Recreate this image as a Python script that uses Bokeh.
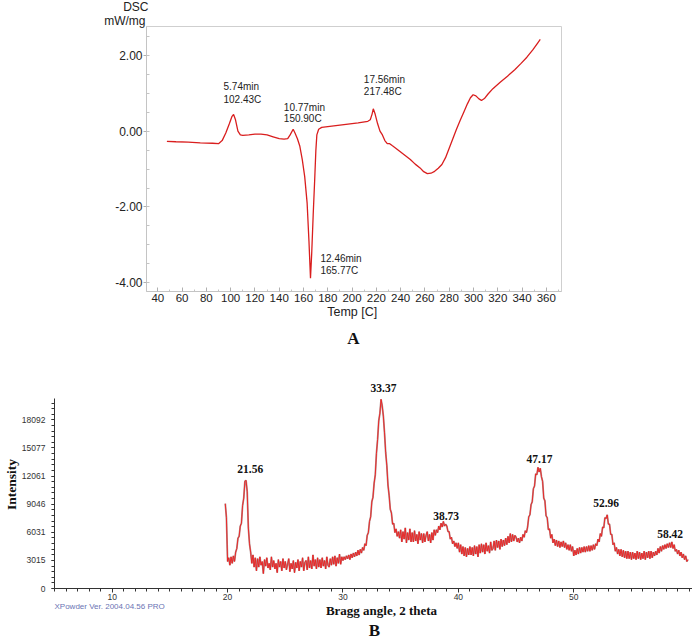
import numpy as np
from bokeh.plotting import figure
from bokeh.models import Range1d, FixedTicker, PrintfTickFormatter, Label
from bokeh.embed import file_html
from bokeh.resources import INLINE

# ---------------- Panel A : DSC ----------------
dsc_temp = [47.5, 55, 65, 75, 85, 90, 93, 96, 99, 101, 102.43, 104, 106, 108, 110, 115, 120,
            125, 130, 135, 140, 144, 147, 149, 151.5, 153, 155, 157, 159, 161, 163, 164.5,
            165.77, 166.8, 168, 169.2, 170.2, 171, 172.5, 175, 185, 195, 205, 213, 215, 216.5,
            217.48, 219, 221, 223, 225, 227, 229, 231, 233, 236, 240, 244, 248, 252, 256, 259,
            262, 265, 268, 271, 274, 277, 280, 283, 286, 289, 292, 295, 297.5, 299.7, 302,
            304.5, 306.6, 309, 312, 316, 322, 328, 334, 339, 344, 349, 353, 355]
dsc_val = [-0.27, -0.28, -0.29, -0.31, -0.32, -0.33, -0.25, -0.05, 0.2, 0.38, 0.44, 0.3, 0.0,
           -0.1, -0.11, -0.1, -0.08, -0.08, -0.1, -0.15, -0.2, -0.21, -0.2, -0.1, 0.05, -0.05,
           -0.2, -0.4, -0.75, -1.2, -1.9, -2.9, -3.88, -3.2, -2.2, -1.3, -0.5, -0.1, 0.05, 0.1,
           0.14, 0.18, 0.22, 0.26, 0.3, 0.45, 0.59, 0.45, 0.2, 0.0, -0.1, -0.25, -0.33, -0.33,
           -0.38, -0.45, -0.55, -0.65, -0.75, -0.87, -0.97, -1.07, -1.12, -1.11, -1.06, -0.98,
           -0.88, -0.7, -0.45, -0.2, 0.05, 0.28, 0.5, 0.72, 0.88, 0.96, 0.93, 0.85, 0.81, 0.86,
           0.98, 1.12, 1.29, 1.45, 1.62, 1.78, 1.95, 2.15, 2.33, 2.42]
dsc_peak_time = ["5.74min", "10.77min", "17.56min", "12.46min"]
dsc_peak_temp = ["102.43C", "150.90C", "217.48C", "165.77C"]
dsc_xticks = list(range(40, 361, 20))
dsc_yticks = [-4, -2, 0, 2]

# annotation anchor positions (data coords)
ann_x = [94.1, 143.8, 209.7, 174.0]
ann_y1 = [1.18, 0.63, 1.36, -3.35]
ann_y2 = [0.84, 0.33, 1.05, -3.68]

pA = figure(width=692, height=350, min_border_left=146, min_border_right=131,
            min_border_top=26, min_border_bottom=59,
            x_range=Range1d(30.7, 372.5), y_range=Range1d(-4.23, 2.76),
            output_backend="svg", toolbar_location=None, tools="")
pA.line(dsc_temp, dsc_val, color="#d91e1e", line_width=1.3)
pA.outline_line_color = "#cfcfcf"
pA.xgrid.grid_line_color = None
pA.ygrid.grid_line_color = None

xa = pA.xaxis[0]
xa.ticker = FixedTicker(ticks=dsc_xticks, minor_ticks=list(range(50, 371, 20)))
xa.major_tick_in = 4
xa.major_tick_out = 0
xa.minor_tick_in = 2
xa.minor_tick_out = 0
xa.axis_line_color = "#c4c4c4"
xa.major_tick_line_color = "#b0b0b0"
xa.minor_tick_line_color = "#c4c4c4"
xa.major_label_text_font = "Liberation Sans"
xa.major_label_text_font_size = "11.5px"
xa.major_label_text_color = "#222222"
xa.major_label_standoff = 2
xa.axis_label = "Temp  [C]"
xa.axis_label_text_font = "Liberation Sans"
xa.axis_label_text_font_style = "normal"
xa.axis_label_text_font_size = "12.5px"
xa.axis_label_text_color = "#222222"
xa.axis_label_standoff = 0

ya = pA.yaxis[0]
ya.ticker = FixedTicker(ticks=dsc_yticks, minor_ticks=list(np.arange(-4, 2.51, 0.5)))
ya.formatter = PrintfTickFormatter(format="%.2f")
ya.major_tick_out = 3
ya.major_tick_in = 0
ya.minor_tick_in = 3
ya.minor_tick_out = 0
ya.axis_line_color = "#c4c4c4"
ya.major_tick_line_color = "#b0b0b0"
ya.minor_tick_line_color = "#c4c4c4"
ya.major_label_text_font = "Liberation Sans"
ya.major_label_text_font_size = "12px"
ya.major_label_text_color = "#222222"
ya.major_label_standoff = 1

for tx, t1, t2, y1, y2 in zip(ann_x, dsc_peak_time, dsc_peak_temp, ann_y1, ann_y2):
    pA.add_layout(Label(x=tx, y=y1, text=t1, text_font="Liberation Sans", text_font_size="10px",
                        text_color="#222222", text_baseline="middle", text_align="left"))
    pA.add_layout(Label(x=tx, y=y2, text=t2, text_font="Liberation Sans", text_font_size="10px",
                        text_color="#222222", text_baseline="middle", text_align="left"))

# texts outside the frame: labels living in side panels, placed in canvas pixels
pA.add_layout(Label(x=148, y=6, x_units="canvas", y_units="canvas", text="DSC",
                    text_font="Liberation Sans", text_font_size="12px", text_color="#222222",
                    text_baseline="middle", text_align="right"), "left")
pA.add_layout(Label(x=145, y=20, x_units="canvas", y_units="canvas", text="mW/mg",
                    text_font="Liberation Sans", text_font_size="12px", text_color="#222222",
                    text_baseline="middle", text_align="right"), "left")
pA.add_layout(Label(x=353, y=338, x_units="canvas", y_units="canvas", text="A",
                    text_font="Liberation Serif", text_font_size="17px", text_font_style="bold",
                    text_color="#111111", text_baseline="middle", text_align="center"), "below")

# ---------------- Panel B : XRD ----------------
xrd_theta = np.round(np.arange(19.8, 59.95, 0.1), 1)
xrd_int = [
    9100, 7600,
    2900, 3300, 2500, 3400, 2700, 3500, 2900, 3900, 4300, 5400,
    5600, 6700, 7000, 8900, 9700, 11500, 11600, 10400, 6500, 4800,
    3900, 2700, 3600, 2300, 3300, 1900, 3200, 2300, 3400, 2500,
    2900, 1600, 3100, 2400, 3300, 2200, 2700, 2000, 3400, 2300,
    3000, 2100, 2700, 1700, 3100, 2300, 2900, 1900, 3200, 2200,
    2900, 2000, 2600, 3200, 1800, 2700, 2100, 3000, 1700, 2800,
    2200, 3100, 1900, 2900, 2300, 3300, 1900, 2800, 3000, 2000,
    3400, 2200, 3000, 2100, 3600, 2400, 3100, 2100, 3300, 2300,
    3100, 2200, 3300, 2400, 3000, 2100, 3400, 2500, 2300, 3200,
    2500, 3400, 2600, 3500, 2400, 3300, 2700, 3700, 2600, 3400,
    3000, 3400, 3100, 3500, 3200, 3600, 3100, 3700, 3300, 3800,
    3400, 3900, 3500, 4100, 3600, 4200, 3800, 4400, 4100, 4800,
    4600, 5700, 6000, 7200, 7700, 9300, 9800, 11300, 12200, 14500,
    16000, 18000, 18800, 20300, 19600, 18500, 16700, 14600, 13200, 11100,
    10000, 8500, 8100, 6900, 7000, 6000, 6400, 5600, 6100, 5400,
    6300, 5000, 6100, 5300, 6500, 4900, 6000, 5200, 6400, 5000,
    6000, 5000, 6200, 5100, 5800, 4800, 6100, 5200, 5900, 4900,
    5900, 5000, 5700, 6100, 5100, 5800, 4900, 6000, 5200, 6300,
    5700, 6300, 6000, 6700, 6300, 7000, 6600, 7200, 6700, 6900,
    6700, 6100, 6100, 5300, 5500, 4800, 5100, 4500, 4900, 4300,
    4900, 3900, 4700, 3700, 4500, 3500, 4400, 3400, 4300, 3600,
    4500, 3600, 4400, 3500, 4600, 3700, 4500, 3400, 4700, 3800,
    4800, 3900, 4700, 3700, 4900, 4000, 4600, 3800, 5000, 4100,
    4300, 5100, 4100, 5200, 4400, 5100, 4200, 5300, 4500, 5200,
    4600, 5400, 4700, 5600, 4900, 5900, 5000, 5800, 5100, 5700,
    5500, 5000, 5400, 4900, 5500, 5100, 5800, 5500, 6200, 6000,
    6600, 7700, 7900, 9000, 9300, 10700, 11000, 12300, 12200, 13000,
    12500, 12900, 12000, 11500, 9700, 9400, 7800, 7600, 6300, 6400,
    5400, 5800, 4900, 5300, 4600, 5200, 4500, 5100, 4400, 5000,
    4500, 5100, 4400, 4900, 4200, 4700, 4100, 4700, 4000, 4500,
    3500, 4100, 3600, 4300, 3700, 4400, 3800, 4400, 3900, 4500,
    3900, 4500, 4000, 4600, 4000, 4600, 4100, 4700, 4200, 4800,
    4600, 5300, 5000, 5900, 5600, 6600, 6500, 7600, 7500, 7900,
    6900, 6900, 5800, 5800, 4700, 4900, 4000, 4400, 3700, 4200,
    3500, 4200, 3400, 4100, 3300, 4000, 3200, 4000, 3200, 3900,
    3100, 3900, 3200, 3800, 3100, 4000, 3200, 3900, 3100, 3800,
    3200, 4000, 3100, 3900, 3300, 4000, 3200, 4000, 3300, 3900,
    3500, 4000, 3600, 4300, 3800, 4500, 4000, 4600, 4200, 4700,
    4300, 4800, 4400, 4900, 4400, 5000, 4300, 4700, 4000, 4200,
    3700, 4100, 3500, 3900, 3300, 3700, 3100, 3500, 2900, 3100,
]
xrd_peaks = ["21.56", "33.37", "38.73", "47.17", "52.96", "58.42"]
xrd_yticks = [0, 3015, 6031, 9046, 12061, 15077, 18092]
xrd_xticks = [10, 20, 30, 40, 50]

# label anchor positions (data coords)
pk_x = [21.96, 33.51, 38.94, 47.03, 52.81, 58.35]
pk_y = [12844, 21535, 7726, 13842, 9153, 5869]

pB = figure(width=692, height=290, min_border_left=54, min_border_right=0,
            min_border_top=30, min_border_bottom=52,
            x_range=Range1d(5, 60.29), y_range=Range1d(0, 22318),
            output_backend="svg", toolbar_location=None, tools="")
pB.line(xrd_theta[:len(xrd_int)], xrd_int, color="#b39191", line_width=1.8)
pB.line(xrd_theta[:len(xrd_int)], xrd_int, color="#ef1e1e", line_width=0.9)
pB.outline_line_color = None
pB.xgrid.grid_line_color = None
pB.ygrid.grid_line_color = None

bx = pB.xaxis[0]
bx.ticker = FixedTicker(ticks=xrd_xticks, minor_ticks=list(range(5, 61)))
bx.major_tick_out = 4
bx.major_tick_in = 0
bx.minor_tick_out = 3
bx.minor_tick_in = 0
bx.axis_line_color = "#333333"
bx.major_tick_line_color = "#333333"
bx.minor_tick_line_color = "#333333"
bx.major_label_text_font = "Liberation Sans Narrow, Liberation Sans"
bx.major_label_text_font_size = "8.5px"
bx.major_label_text_color = "#333333"
bx.major_label_standoff = 1

by = pB.yaxis[0]
by.ticker = FixedTicker(ticks=xrd_yticks, minor_ticks=list(np.arange(0, 20400, 3015.33 / 5)))
by.formatter = PrintfTickFormatter(format="%d")
by.bounds = (0, 20386)
by.major_tick_out = 3
by.major_tick_in = 0
by.minor_tick_out = 3
by.minor_tick_in = 0
by.axis_line_color = "#333333"
by.major_tick_line_color = "#333333"
by.minor_tick_line_color = "#333333"
by.major_label_text_font = "Liberation Sans Narrow, Liberation Sans"
by.major_label_text_font_size = "8.5px"
by.major_label_text_color = "#333333"
by.major_label_standoff = 6
by.axis_label = "Intensity"
by.axis_label_text_font = "Liberation Serif"
by.axis_label_text_font_style = "bold"
by.axis_label_text_font_size = "13.5px"
by.axis_label_text_color = "#111111"
by.axis_label_standoff = 0

for px, py, t in zip(pk_x, pk_y, xrd_peaks):
    pB.add_layout(Label(x=px, y=py, text=t, text_font="Liberation Serif", text_font_size="11.5px",
                        text_font_style="bold", text_color="#111111", text_baseline="middle",
                        text_align="center"))

# B canvas starts at page y = 350
pB.add_layout(Label(x=381, y=260, x_units="canvas", y_units="canvas", text="Bragg angle, 2 theta",
                    text_font="Liberation Serif", text_font_size="13px", text_font_style="bold",
                    text_color="#111111", text_baseline="middle", text_align="center"), "above")
pB.add_layout(Label(x=54, y=256, x_units="canvas", y_units="canvas",
                    text="XPowder Ver. 2004.04.56 PRO",
                    text_font="Liberation Sans Narrow, Liberation Sans", text_font_size="8px",
                    text_color="#6a74b4", text_baseline="middle", text_align="left"), "above")
pB.add_layout(Label(x=374, y=280, x_units="canvas", y_units="canvas", text="B",
                    text_font="Liberation Serif", text_font_size="17px", text_font_style="bold",
                    text_color="#111111", text_baseline="middle", text_align="center"), "below")

open("out.html", "w").write(file_html([pA, pB], INLINE))
